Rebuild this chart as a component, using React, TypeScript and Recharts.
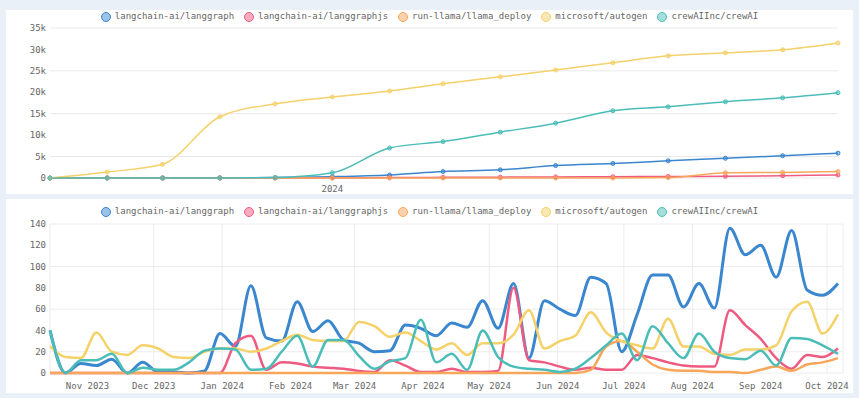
import { LineChart, Line, XAxis, YAxis, CartesianGrid } from 'recharts';

// repos, in legend order
const repos = [
  'langchain-ai/langgraph',
  'langchain-ai/langgraphjs',
  'run-llama/llama_deploy',
  'microsoft/autogen',
  'crewAIInc/crewAI',
];
const keys = ['langgraph', 'langgraphjs', 'llamaDeploy', 'autogen', 'crewai'];
const colors = ['#3a86cf', '#ef5b80', '#f7a65a', '#f5d16a', '#4bbdb8'];

// top chart: cumulative stars, monthly
const monthDates = [
  '2023-08-01', '2023-09-01', '2023-10-01', '2023-11-01', '2023-12-01',
  '2024-01-01', '2024-02-01', '2024-03-01', '2024-04-01', '2024-05-01',
  '2024-06-01', '2024-07-01', '2024-08-01', '2024-09-01', '2024-10-01',
];
const langgraphTotal = [0, 0, 0, 50, 100, 300, 700, 1500, 1900, 2900, 3400, 4000, 4600, 5200, 5800];
const langgraphjsTotal = [0, 0, 0, 0, 0, 0, 100, 150, 200, 250, 300, 350, 400, 550, 700];
const llamaDeployTotal = [0, 0, 0, 0, 0, 0, 0, 0, 0, 0, 0, 100, 1200, 1300, 1500];
const autogenTotal = [0, 1400, 3200, 14300, 17300, 18900, 20300, 22000, 23600, 25200, 26900, 28500, 29200, 29900, 31500];
const crewaiTotal = [0, 0, 0, 0, 100, 1200, 7000, 8500, 10700, 12800, 15700, 16600, 17800, 18700, 19900];
const topTicks = ['2024-01-01'];
const topTickLabels = ['2024'];
const topYTicks = [0, 5000, 10000, 15000, 20000, 25000, 30000, 35000];

// bottom chart: stars per week
const weekDates = [
  '2023-10-15', '2023-10-22', '2023-10-29', '2023-11-05', '2023-11-12', '2023-11-19', '2023-11-26',
  '2023-12-03', '2023-12-10', '2023-12-17', '2023-12-24', '2023-12-31', '2024-01-07', '2024-01-14',
  '2024-01-21', '2024-01-28', '2024-02-04', '2024-02-11', '2024-02-18', '2024-02-25', '2024-03-03',
  '2024-03-10', '2024-03-17', '2024-03-24', '2024-03-31', '2024-04-07', '2024-04-14', '2024-04-21',
  '2024-04-28', '2024-05-05', '2024-05-12', '2024-05-19', '2024-05-26', '2024-06-02', '2024-06-09',
  '2024-06-16', '2024-06-23', '2024-06-30', '2024-07-07', '2024-07-14', '2024-07-21', '2024-07-28',
  '2024-08-04', '2024-08-11', '2024-08-18', '2024-08-25', '2024-09-01', '2024-09-08', '2024-09-15',
  '2024-09-22', '2024-09-29', '2024-10-06',
];
const langgraphWeekly = [
  40, 0, 9, 7, 13, 0, 10, 1, 1, 0, 2, 37, 25, 82, 33, 30, 67, 39, 49, 31, 28, 20, 21, 45, 42, 35,
  47, 43, 68, 42, 84, 14, 68, 60, 54, 90, 84, 20, 55, 92, 92, 62, 84, 61, 136, 111, 120, 90, 134, 78, 73, 84,
];
const langgraphjsWeekly = [
  0, 0, 0, 0, 0, 0, 0, 0, 0, 0, 0, 0, 28, 35, 3, 10, 9, 6, 5, 4, 2, 1, 12, 7, 1, 1,
  4, 1, 1, 2, 80, 12, 10, 6, 3, 5, 3, 3, 17, 14, 10, 7, 6, 6, 59, 45, 32, 14, 4, 17, 15, 23,
];
const llamaDeployWeekly = [
  0, 0, 0, 0, 0, 0, 0, 0, 0, 0, 0, 0, 0, 0, 0, 0, 0, 0, 0, 0, 0, 0, 0, 0, 0, 0,
  0, 0, 0, 0, 0, 0, 0, 0, 0, 3, 25, 30, 20, 8, 3, 2, 2, 1, 1, 0, 3, 6, 2, 8, 10, 14,
];
const autogenWeekly = [
  25, 15, 14, 38, 20, 17, 26, 23, 15, 14, 20, 23, 23, 20, 23, 30, 36, 31, 30, 30, 48, 44, 34, 38, 30, 22,
  28, 17, 28, 28, 36, 59, 23, 30, 35, 57, 38, 30, 26, 23, 51, 25, 25, 18, 17, 22, 22, 26, 58, 67, 37, 55,
];
const crewaiWeekly = [
  40, 0, 12, 12, 18, 0, 5, 3, 3, 10, 21, 23, 22, 3, 4, 20, 35, 6, 31, 31, 16, 4, 11, 14, 50, 10,
  18, 3, 40, 15, 6, 4, 3, 1, 4, 14, 26, 37, 12, 44, 28, 14, 37, 20, 14, 13, 21, 7, 33, 32, 26, 18,
];
const monthTicks = [
  '2023-11-01', '2023-12-01', '2024-01-01', '2024-02-01', '2024-03-01', '2024-04-01',
  '2024-05-01', '2024-06-01', '2024-07-01', '2024-08-01', '2024-09-01', '2024-10-01',
];
const monthTickLabels = [
  'Nov 2023', 'Dec 2023', 'Jan 2024', 'Feb 2024', 'Mar 2024', 'Apr 2024',
  'May 2024', 'Jun 2024', 'Jul 2024', 'Aug 2024', 'Sep 2024', 'Oct 2024',
];
const bottomYTicks = [0, 20, 40, 60, 80, 100, 120, 140];

const totals = [langgraphTotal, langgraphjsTotal, llamaDeployTotal, autogenTotal, crewaiTotal];
const weeklies = [langgraphWeekly, langgraphjsWeekly, llamaDeployWeekly, autogenWeekly, crewaiWeekly];

const topRows = monthDates.map((d, i) => {
  const row: Record<string, number> = { t: Date.parse(d) };
  keys.forEach((k, s) => (row[k] = totals[s][i]));
  return row;
});
const bottomRows = weekDates.map((d, i) => {
  const row: Record<string, number> = { t: Date.parse(d) };
  keys.forEach((k, s) => (row[k] = weeklies[s][i]));
  return row;
});

const FONT = '"DejaVu Sans Mono", monospace';
const tickStyle = { fontSize: 9, fill: '#666', fontFamily: FONT };

function hexAlpha(hex: string, a: number) {
  const n = parseInt(hex.slice(1), 16);
  return `rgba(${n >> 16},${(n >> 8) & 255},${n & 255},${a})`;
}

function Legend({ top }: { top: number }) {
  return (
    <div
      style={{
        position: 'absolute',
        top,
        left: 0,
        right: 0,
        display: 'flex',
        justifyContent: 'center',
        gap: 10,
        fontFamily: FONT,
        fontSize: 9,
        color: '#666',
        lineHeight: '11px',
        zIndex: 2,
      }}
    >
      {repos.map((r, i) => (
        <div key={r} style={{ display: 'flex', alignItems: 'center', gap: 4 }}>
          <span
            style={{
              width: 8,
              height: 8,
              borderRadius: '50%',
              background: hexAlpha(colors[i], 0.5),
              border: `1px solid ${colors[i]}`,
            }}
          />
          <span>{r}</span>
        </div>
      ))}
    </div>
  );
}

const panelStyle = {
  position: 'absolute' as const,
  left: 6,
  width: 847,
  background: '#fff',
};

export default function App() {
  const topTickVals = topTicks.map((d) => Date.parse(d));
  const monthTickVals = monthTicks.map((d) => Date.parse(d));
  return (
    <div
      style={{
        position: 'absolute',
        left: 0,
        top: 0,
        width: 859,
        height: 398,
        background: '#eaf0f8',
        overflow: 'hidden',
      }}
    >
      <div style={{ ...panelStyle, top: 10, height: 184 }}>
        <Legend top={1} />
        <LineChart width={847} height={184} data={topRows} margin={{ top: 18, right: 15, bottom: 0, left: 0 }}>
          <CartesianGrid stroke="#e9e9e9" vertical={false} />
          <XAxis
            dataKey="t"
            type="number"
            scale="time"
            domain={['dataMin', 'dataMax']}
            ticks={topTickVals}
            tickFormatter={(v) => topTickLabels[topTickVals.indexOf(v)] ?? ''}
            tick={tickStyle}
            axisLine={false}
            tickLine={false}
            height={16}
          />
          <YAxis
            ticks={topYTicks}
            domain={[0, 35000]}
            tickFormatter={(v) => (v === 0 ? '0' : `${v / 1000}k`)}
            tick={tickStyle}
            axisLine={false}
            tickLine={false}
            tickSize={2}
            width={44}
          />
          {keys.map((k, i) => (
            <Line
              key={k}
              dataKey={k}
              type="monotone"
              stroke={colors[i]}
              strokeWidth={1.5}
              dot={{ r: 2, fill: hexAlpha(colors[i], 0.5), stroke: colors[i], strokeWidth: 1 }}
              isAnimationActive={false}
            />
          ))}
        </LineChart>
      </div>

      <div style={{ ...panelStyle, top: 199, height: 194 }}>
        <Legend top={7} />
        <LineChart width={847} height={194} data={bottomRows} margin={{ top: 25, right: 10, bottom: 0, left: 0 }}>
          <CartesianGrid stroke="#ececec" />
          <XAxis
            dataKey="t"
            type="number"
            scale="time"
            domain={['dataMin', 'dataMax']}
            ticks={monthTickVals}
            tickFormatter={(v) => monthTickLabels[monthTickVals.indexOf(v)] ?? ''}
            tick={tickStyle}
            axisLine={false}
            tickLine={false}
            tickMargin={4}
            height={20}
            padding={{ left: 0, right: 5 }}
          />
          <YAxis
            ticks={bottomYTicks}
            domain={[0, 140]}
            tick={tickStyle}
            axisLine={false}
            tickLine={false}
            tickSize={2}
            width={44}
          />
          {keys.map((k, i) => (
            <Line
              key={k}
              dataKey={k}
              type="monotone"
              stroke={colors[i]}
              strokeWidth={i === 0 ? 3 : 2.5}
              dot={false}
              isAnimationActive={false}
            />
          ))}
        </LineChart>
      </div>
    </div>
  );
}
